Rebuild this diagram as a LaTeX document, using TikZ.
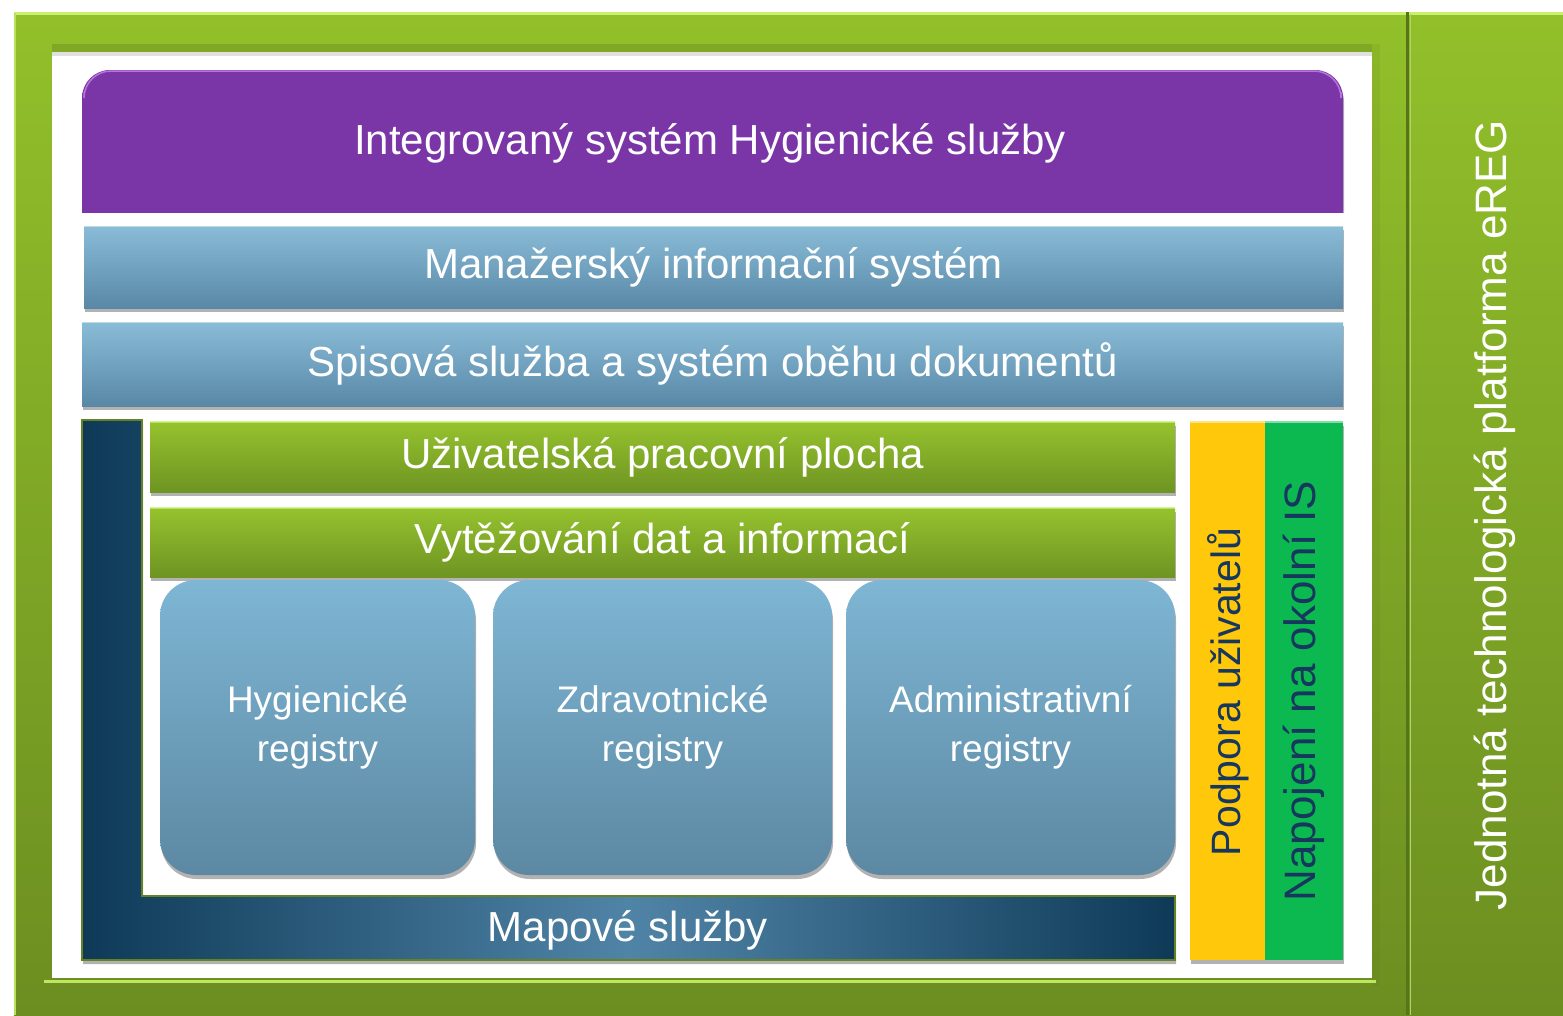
\documentclass[tikz,border=0pt]{standalone}
\usepackage{fontspec}
\setmainfont{Liberation Sans}
\usetikzlibrary{shadows}
\definecolor{frameT}{RGB}{146,192,42}
\definecolor{frameB}{RGB}{108,142,33}
\definecolor{frameHL}{RGB}{200,240,110}
\definecolor{frameDK}{RGB}{88,118,25}
\definecolor{purp}{RGB}{122,53,166}
\definecolor{purpHL}{RGB}{200,130,235}
\definecolor{blueT}{RGB}{138,188,216}
\definecolor{blueB}{RGB}{88,136,166}
\definecolor{regT}{RGB}{126,182,212}
\definecolor{regB}{RGB}{92,136,162}
\definecolor{grT}{RGB}{150,194,46}
\definecolor{grB}{RGB}{110,148,34}
\definecolor{navyD}{RGB}{14,58,88}
\definecolor{navyL}{RGB}{80,132,166}
\definecolor{olive}{RGB}{100,130,35}
\definecolor{yel}{RGB}{255,200,10}
\definecolor{grn}{RGB}{12,185,80}
\definecolor{txtN}{RGB}{23,55,94}
\tikzset{
  shd/.style={drop shadow={shadow xshift=1pt,shadow yshift=-4pt,opacity=0.3,fill=black}},
  bluebar/.style={shd,top color=blueT,bottom color=blueB,draw=none,inner sep=0pt,
    text=white,font=\fontsize{42}{50}\selectfont},
  greenbar/.style={shd,top color=grT,bottom color=grB,draw=none,inner sep=0pt,
    text=white,font=\fontsize{42}{50}\selectfont},
  regbox/.style={shd,top color=regT,bottom color=regB,draw=none,rounded corners=36pt,
    inner sep=0pt,text=white,align=center,font=\fontsize{37}{49}\selectfont},
  sidebar/.style={shd,draw=none,inner sep=0pt,text=txtN},
  vtext/.style={rotate=90,inner sep=0pt,text=txtN},
}
\begin{document}
\begin{tikzpicture}[x=1pt,y=-1pt]
\useasboundingbox (0,0) rectangle (1563,1015);
\fill[white] (0,0) rectangle (1563,1015);
% outer frame
\shade[top color=frameT,bottom color=frameB] (14,12) rectangle (1563,1015);
\draw[frameHL,line width=2.5pt] (14,13.5) -- (1563,13.5);
\draw[frameHL!70!frameT,line width=1.5pt] (15,13) -- (15,1015);
% inner bevel
\fill[frameDK,opacity=0.3] (52,44) rectangle (1372,52);
\fill[frameDK,opacity=0.12] (1372,44) rectangle (1380,986);
\fill[white] (52,52) rectangle (1372,978);
\fill[black,opacity=0.12] (52,52) rectangle (1372,56);
\draw[frameHL!80!frameT,line width=3pt] (44,981) -- (1376,981);
% separator
\draw[frameDK,line width=3pt] (1407,12) -- (1407,1015);
\draw[frameT!70!white,line width=1pt] (1410,14) -- (1410,1015);
% purple top bar
\begin{scope}
\clip (0,0) rectangle (1563,212);
\shade[shd,top color=purp,bottom color=purp,rounded corners=28pt] (82,70) rectangle (1343,260);
\draw[purpHL,opacity=0.8,line width=1.5pt,rounded corners=27pt] (84,92) -- (84,71) -- (1341,71) -- (1341,92);
\end{scope}
\node[inner sep=0pt,text=white,font=\fontsize{42}{50}\selectfont] (ish) at (710,143) {Integrovaný systém Hygienické služby};
% blue bars
\node[bluebar,minimum width=1259pt,minimum height=82pt] (mis) at (713.5,267) {Manažerský informační systém};
\node[bluebar,minimum width=1261pt,minimum height=84pt] (sps) at (712.5,364) {Spisová služba a systém oběhu dokumentů};
\draw[white,opacity=0.45,line width=1.5pt] (mis.north west) -- (mis.north east);
\draw[white,opacity=0.45,line width=1.5pt] (sps.north west) -- (sps.north east);
% navy L
\shade[shd,left color=navyD,right color=navyD,middle color=navyL,draw=olive,line width=2pt]
  (82,420) -- (142,420) -- (142,896) -- (1175,896) -- (1175,960) -- (82,960) -- cycle;
\node[inner sep=0pt,text=white,font=\fontsize{42}{50}\selectfont] (map) at (628,930) {Mapové služby};
% green bars
\node[greenbar,minimum width=1025pt,minimum height=70pt] (upp) at (662.5,457) {Uživatelská pracovní plocha};
\node[greenbar,minimum width=1025pt,minimum height=69pt] (vdi) at (662.5,542.5) {Vytěžování dat a informací};
\draw[frameHL,opacity=0.7,line width=1.5pt] (upp.north west) -- (upp.north east);
\draw[frameHL,opacity=0.7,line width=1.5pt] (vdi.north west) -- (vdi.north east);
% registers
\node[regbox,minimum width=315pt,minimum height=295pt] (hyg) at (317.5,727.5) {Hygienické\\registry};
\node[regbox,minimum width=339pt,minimum height=295pt] (zdr) at (662.5,727.5) {Zdravotnické\\registry};
\node[regbox,minimum width=329pt,minimum height=295pt] (adm) at (1010.5,727.5) {Administrativní\\registry};
% side bars
\node[sidebar,fill=yel,minimum width=75pt,minimum height=538pt] (pod) at (1227.5,691) {};
\node[sidebar,fill=grn,minimum width=78pt,minimum height=538pt] (nap) at (1304,691) {};
\draw[yel!50!white,line width=2pt] (pod.north west) -- (pod.north east);
\draw[grn!50!white,line width=2pt] (nap.north west) -- (nap.north east);
\node[vtext,font=\fontsize{41}{50}\selectfont] (podt) at (1228,692) {Podpora uživatelů};
\node[vtext,font=\fontsize{44}{50}\selectfont] (napt) at (1304,691) {Napojení na okolní IS};
% right band text
\node[rotate=90,inner sep=0pt,text=white,font=\fontsize{44}{50}\selectfont] (jtp) at (1495,515) {Jednotná technologická platforma eREG};
\end{tikzpicture}
\end{document}
